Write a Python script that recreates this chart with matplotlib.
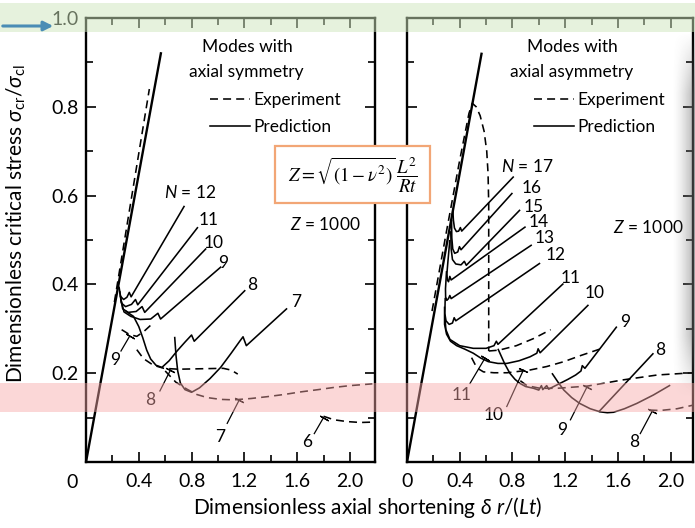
import matplotlib
matplotlib.use("Agg")
import numpy as np
import matplotlib.pyplot as plt
from matplotlib.patches import Rectangle, FancyArrowPatch
from matplotlib.lines import Line2D
from matplotlib.ticker import MultipleLocator, FixedLocator, FixedFormatter

plt.rcParams['font.family'] = ['Lato', 'DejaVu Sans']
plt.rcParams['mathtext.fontset'] = 'custom'
plt.rcParams['mathtext.rm'] = 'Lato'
plt.rcParams['mathtext.it'] = 'Lato:italic'
plt.rcParams['mathtext.bf'] = 'Lato:bold'

# =============================
# Data
# =============================

# left panel: modes with axial symmetry
sym_prebuckling = [(0.0, 0.0), (0.569, 0.923)]
sym_exp_prebuckling = [(0.215, 0.36), (0.48, 0.84)]

sym_n12 = [(0.25, 0.395), (0.262, 0.373), (0.285, 0.366), (0.31, 0.371), (0.328, 0.382), (0.342, 0.372), (0.746, 0.577)]
sym_n11 = [(0.255, 0.385), (0.268, 0.358), (0.30, 0.350), (0.345, 0.355), (0.375, 0.366), (0.392, 0.354), (0.848, 0.529)]
sym_n10 = [(0.26, 0.375), (0.278, 0.345), (0.32, 0.337), (0.38, 0.339), (0.425, 0.35), (0.445, 0.337), (0.911, 0.481)]
sym_n9 = [(0.265, 0.365), (0.288, 0.338), (0.34, 0.328), (0.41, 0.321), (0.49, 0.322), (0.545, 0.335), (0.565, 0.322), (1.025, 0.44)]
sym_n8 = [(0.30, 0.34), (0.36, 0.328), (0.40, 0.305), (0.43, 0.28), (0.46, 0.252), (0.49, 0.232), (0.53, 0.218),
          (0.575, 0.213), (0.63, 0.228), (0.69, 0.25), (0.75, 0.27), (0.80, 0.286), (0.82, 0.272), (1.207, 0.387)]
sym_n7 = [(0.672, 0.282), (0.682, 0.24), (0.695, 0.205), (0.715, 0.178), (0.75, 0.163), (0.80, 0.157), (0.86, 0.167),
          (0.94, 0.188), (1.02, 0.213), (1.10, 0.245), (1.165, 0.272), (1.19, 0.282), (1.215, 0.262), (1.524, 0.346)]

sym_exp9 = [(0.27, 0.298), (0.33, 0.287), (0.385, 0.283), (0.435, 0.293), (0.49, 0.308)]
sym_exp8 = [(0.385, 0.253), (0.435, 0.233), (0.51, 0.218), (0.59, 0.211), (0.70, 0.209), (0.87, 0.210),
            (1.04, 0.211), (1.10, 0.207), (1.15, 0.198)]
sym_exp7 = [(0.60, 0.205), (0.68, 0.18), (0.765, 0.164), (0.84, 0.152), (0.92, 0.145), (1.02, 0.141), (1.12, 0.140),
            (1.25, 0.143), (1.37, 0.147), (1.50, 0.152), (1.63, 0.158), (1.76, 0.163), (1.88, 0.168), (2.00, 0.172),
            (2.17, 0.176)]
sym_exp6 = [(1.80, 0.103), (1.88, 0.095), (1.98, 0.091), (2.08, 0.089), (2.19, 0.09)]

sym_lead9 = [(0.265, 0.25), (0.33, 0.283)]
sym_lead8 = [(0.56, 0.16), (0.64, 0.207)]
sym_lead7 = [(1.07, 0.087), (1.16, 0.139)]
sym_lead6 = [(1.73, 0.064), (1.80, 0.10)]

sym_pred_labels = ['$N$ = 12', '11', '10', '9', '8', '7']
sym_exp_labels = ['9', '8', '7', '6']

# right panel: modes with axial asymmetry
asy_prebuckling = [(0.0, 0.0), (0.567, 0.922)]
asy_exp_main = [(0.19, 0.34), (0.30, 0.52), (0.40, 0.68), (0.47, 0.785), (0.495, 0.808), (0.525, 0.80), (0.555, 0.78),
                (0.585, 0.745), (0.605, 0.70), (0.615, 0.65), (0.62, 0.58), (0.62, 0.45), (0.62, 0.33), (0.62, 0.25)]

asy_n17 = [(0.348, 0.566), (0.352, 0.545), (0.36, 0.527), (0.375, 0.519), (0.392, 0.52), (0.405, 0.528), (0.415, 0.52), (0.81, 0.643)]
asy_n16 = [(0.338, 0.545), (0.34, 0.505), (0.347, 0.48), (0.362, 0.47), (0.385, 0.473), (0.398, 0.485), (0.41, 0.478), (0.80, 0.606)]
asy_n15 = [(0.332, 0.52), (0.335, 0.48), (0.345, 0.456), (0.37, 0.446), (0.41, 0.444), (0.435, 0.452), (0.45, 0.443), (0.858, 0.568)]
asy_n14 = [(0.325, 0.50), (0.31, 0.45), (0.303, 0.425), (0.306, 0.41), (0.315, 0.406), (0.325, 0.418), (0.335, 0.41), (0.90, 0.53)]
asy_n13 = [(0.30, 0.43), (0.292, 0.39), (0.293, 0.372), (0.302, 0.364), (0.315, 0.368), (0.325, 0.375), (0.335, 0.368), (0.947, 0.489)]
asy_n12 = [(0.29, 0.37), (0.287, 0.335), (0.296, 0.318), (0.32, 0.31), (0.345, 0.313), (0.358, 0.325), (0.37, 0.318), (1.01, 0.448)]
asy_n11 = [(0.287, 0.33), (0.295, 0.298), (0.326, 0.276), (0.40, 0.262), (0.503, 0.256), (0.60, 0.256), (0.66, 0.262),
           (0.678, 0.272), (0.69, 0.265), (1.187, 0.402)]
asy_n10 = [(0.285, 0.35), (0.285, 0.31), (0.30, 0.288), (0.33, 0.272), (0.377, 0.262), (0.44, 0.254), (0.503, 0.245),
           (0.56, 0.234), (0.617, 0.226), (0.69, 0.222), (0.757, 0.222), (0.85, 0.228), (0.934, 0.237), (0.985, 0.245),
           (0.995, 0.255), (1.01, 0.246), (1.377, 0.354)]
asy_n9 = [(0.69, 0.255), (0.74, 0.222), (0.78, 0.20), (0.82, 0.186), (0.857, 0.177), (0.90, 0.17), (0.96, 0.166),
          (1.0, 0.162), (1.02, 0.172), (1.03, 0.163), (1.06, 0.172), (1.075, 0.164), (1.10, 0.168), (1.16, 0.177),
          (1.22, 0.186), (1.28, 0.196), (1.32, 0.205), (1.33, 0.217), (1.35, 0.211), (1.592, 0.305)]
asy_n8 = [(1.10, 0.20), (1.15, 0.178), (1.19, 0.162), (1.25, 0.145), (1.31, 0.132), (1.39, 0.12), (1.465, 0.113),
          (1.52, 0.111), (1.567, 0.112), (1.65, 0.12), (1.744, 0.132), (1.87, 0.151), (1.997, 0.173)]
asy_n8_line = [(1.455, 0.113), (1.87, 0.245)]

asy_exp_upper = [(0.62, 0.25), (0.70, 0.252), (0.83, 0.262), (0.96, 0.278), (1.09, 0.298)]
asy_exp_mid = [(0.49, 0.235), (0.53, 0.212), (0.58, 0.203), (0.66, 0.201), (0.76, 0.201), (0.93, 0.207), (1.06, 0.215),
               (1.19, 0.226), (1.32, 0.24), (1.44, 0.252), (1.50, 0.258)]
asy_exp_low = [(0.86, 0.183), (0.91, 0.172), (1.01, 0.166), (1.14, 0.166), (1.37, 0.171), (1.64, 0.185), (1.90, 0.196), (2.17, 0.201)]
asy_exp8 = [(1.84, 0.117), (1.92, 0.116), (2.05, 0.12), (2.17, 0.128)]

asy_lead11 = [(0.478, 0.177), (0.592, 0.234)]
asy_lead10 = [(0.757, 0.125), (0.883, 0.207)]
asy_lead9 = [(1.24, 0.095), (1.364, 0.168)]
asy_lead8 = [(1.77, 0.064), (1.86, 0.114)]

asy_pred_labels = ['$N$ = 17', '16', '15', '14', '13', '12', '11', '10', '9', '8']
asy_exp_labels = ['11', '10', '9', '8']

x_ticks = [0.0, 0.4, 0.8, 1.2, 1.6, 2.0]
x_ticklabels = ['0', '0.4', '0.8', '1.2', '1.6', '2.0']
y_ticks = [0.0, 0.2, 0.4, 0.6, 0.8, 1.0]
y_ticklabels = ['', '0.2', '0.4', '0.6', '0.8', '1.0']

# =============================
# Figure
# =============================

W, H = 695, 528
fig = plt.figure(figsize=(W / 100, H / 100), dpi=100)


def fpx(x, y):
    # pixel position (from top-left) to figure fraction
    return x / W, 1 - y / H


ax1 = fig.add_axes([86 / W, 66 / H, 289 / W, 444 / H])
ax2 = fig.add_axes([407 / W, 66 / H, 286 / W, 444 / H])

DASH = (0, (5, 3.2))


def curve(ax, pts, dashed=False, lw=1.15):
    xs, ys = zip(*pts)
    ax.plot(xs, ys, color='black', lw=lw, ls=DASH if dashed else '-', solid_capstyle='butt')


def leader(ax, pts):
    xs, ys = zip(*pts)
    ax.plot(xs, ys, color='black', lw=0.9)
    p0 = ax.transData.transform(pts[0])
    p1 = ax.transData.transform(pts[1])
    ang = np.degrees(np.arctan2(p1[1] - p0[1], p1[0] - p0[0]))
    ax.plot([xs[1]], [ys[1]], marker=(2, 2, ang), ms=7, mew=0.9, color='black')


for ax in (ax1, ax2):
    ax.set_xlim(0, 2.19 if ax is ax1 else 2.17)
    ax.set_ylim(0, 1.0)
    ax.xaxis.set_major_locator(FixedLocator(x_ticks))
    ax.xaxis.set_minor_locator(MultipleLocator(0.2))
    ax.yaxis.set_major_locator(FixedLocator(y_ticks))
    ax.yaxis.set_minor_locator(MultipleLocator(0.1))
    ax.tick_params(which='both', direction='in', top=True, right=True, width=1.2, labelsize=14)
    ax.tick_params(which='major', length=7)
    ax.tick_params(which='minor', length=5)
    ax.tick_params(axis='x', pad=8)
    ax.tick_params(axis='y', pad=5)
    for s in ax.spines.values():
        s.set_linewidth(1.7)

ax1.xaxis.set_major_formatter(FixedFormatter([''] + x_ticklabels[1:]))
ax1.yaxis.set_major_formatter(FixedFormatter(y_ticklabels))
ax2.xaxis.set_major_formatter(FixedFormatter(x_ticklabels))
ax2.yaxis.set_major_formatter(FixedFormatter([''] * len(y_ticks)))
fig.text(*fpx(72, 482), '0', fontsize=14, ha='center', va='center')

# ---- left panel ----
curve(ax1, sym_prebuckling, lw=1.7)
curve(ax1, sym_exp_prebuckling, dashed=True)
for c in (sym_n12, sym_n11, sym_n10, sym_n9, sym_n8, sym_n7):
    curve(ax1, c)
for c in (sym_exp9, sym_exp8, sym_exp7, sym_exp6):
    curve(ax1, c, dashed=True)
for c in (sym_lead9, sym_lead8, sym_lead7, sym_lead6):
    leader(ax1, c)

sym_pred_pos = [(0.79, 0.607), (0.93, 0.545), (0.97, 0.493), (1.04, 0.448), (1.26, 0.399), (1.59, 0.361)]
for lab, (x, y) in zip(sym_pred_labels, sym_pred_pos):
    ax1.text(x, y, lab, fontsize=12.5, ha='center', va='center')
sym_exp_pos = [(0.22, 0.23), (0.49, 0.14), (1.02, 0.057), (1.675, 0.046)]
for lab, (x, y) in zip(sym_exp_labels, sym_exp_pos):
    ax1.text(x, y, lab, fontsize=12.5, ha='center', va='center')

ax1.text(1.22, 0.935, 'Modes with', fontsize=12.5, ha='center', va='center')
ax1.text(1.215, 0.879, 'axial symmetry', fontsize=12.5, ha='center', va='center')
ax1.text(1.81, 0.534, '$Z$ = 1000', fontsize=12.5, ha='center', va='center')

# ---- right panel ----
curve(ax2, asy_prebuckling, lw=1.7)
curve(ax2, asy_exp_main, dashed=True)
for c in (asy_n17, asy_n16, asy_n15, asy_n14, asy_n13, asy_n12, asy_n11, asy_n10, asy_n9, asy_n8, asy_n8_line):
    curve(ax2, c)
for c in (asy_exp_upper, asy_exp_mid, asy_exp_low, asy_exp8):
    curve(ax2, c, dashed=True)
for c in (asy_lead11, asy_lead10, asy_lead9, asy_lead8):
    leader(ax2, c)

asy_pred_pos = [(0.91, 0.665), (0.947, 0.616), (0.96, 0.575), (1.0, 0.541), (1.048, 0.504), (1.124, 0.466),
                (1.238, 0.414), (1.427, 0.38), (1.655, 0.316), (1.92, 0.252)]
for lab, (x, y) in zip(asy_pred_labels, asy_pred_pos):
    ax2.text(x, y, lab, fontsize=12.5, ha='center', va='center')
asy_exp_pos = [(0.415, 0.151), (0.655, 0.106), (1.175, 0.072), (1.72, 0.046)]
for lab, (x, y) in zip(asy_exp_labels, asy_exp_pos):
    ax2.text(x, y, lab, fontsize=12.5, ha='center', va='center')

ax2.text(1.257, 0.935, 'Modes with', fontsize=12.5, ha='center', va='center')
ax2.text(1.25, 0.878, 'axial asymmetry', fontsize=12.5, ha='center', va='center')
ax2.text(1.83, 0.529, '$Z$ = 1000', fontsize=12.5, ha='center', va='center')

handles = [Line2D([], [], color='black', lw=1.15, ls=DASH), Line2D([], [], color='black', lw=1.15)]
for ax, x0 in ((ax1, 0.43), (ax2, 0.445)):
    ax.legend(handles, ['Experiment', 'Prediction'], loc='upper left', bbox_to_anchor=(x0, 0.833),
              frameon=False, fontsize=12.5, handlelength=2.3, handletextpad=0.2, labelspacing=0.65,
              borderpad=0, borderaxespad=0)

# ---- axis labels ----
fig.text(*fpx(368, 508), r'Dimensionless axial shortening $\delta\ r/(Lt)$', fontsize=15,
         ha='center', va='center')
fig.text(*fpx(16, 224), r'Dimensionless critical stress $\sigma_{\mathrm{cr}}/\sigma_{\mathrm{cl}}$',
         fontsize=15, ha='center', va='center', rotation=90)

# ---- formula box ----
bx0, by0 = fpx(275, 203)
fig.patches.append(Rectangle((bx0, by0), 155 / W, 57 / H, transform=fig.transFigure, facecolor='white',
                             edgecolor='#f2a676', lw=1.6, zorder=5))
fig.text(*fpx(353, 175), r'$Z = \sqrt{(1-\nu^2)}\,\dfrac{L^2}{Rt}$', fontsize=13.5, ha='center', va='center',
         math_fontfamily='stix', zorder=6)

# ---- highlight bands, arrow and page shadow ----
gx, gy = fpx(0, 32)
fig.patches.append(Rectangle((gx, gy), 1, 29 / H, transform=fig.transFigure, facecolor='#cfe6bd',
                             alpha=0.5, lw=0, zorder=10))
px0, py0 = fpx(0, 412)
fig.patches.append(Rectangle((px0, py0), 1, 29 / H, transform=fig.transFigure, facecolor='#f7a8a8',
                             alpha=0.45, lw=0, zorder=10))
fig.patches.append(FancyArrowPatch(fpx(0, 26), fpx(56, 26), transform=fig.transFigure, arrowstyle='-|>',
                                   mutation_scale=14, color='#4a8db5', lw=2.2, zorder=11))

shade = np.zeros((60, 40, 4))
shade[..., :3] = 0.45
fade_x = np.linspace(0, 1, 40) ** 1.5
fade_y = np.clip(np.minimum(np.linspace(0, 6, 60), np.linspace(6, 0, 60)), 0, 1)
shade[..., 3] = 0.55 * fade_y[:, None] * fade_x[None, :]
sax = fig.add_axes([672 / W, 1 - 400 / H, 23 / W, 370 / H], zorder=9)
sax.imshow(shade, aspect='auto', interpolation='bilinear')
sax.axis('off')

fig.savefig('out.png', dpi=100)
